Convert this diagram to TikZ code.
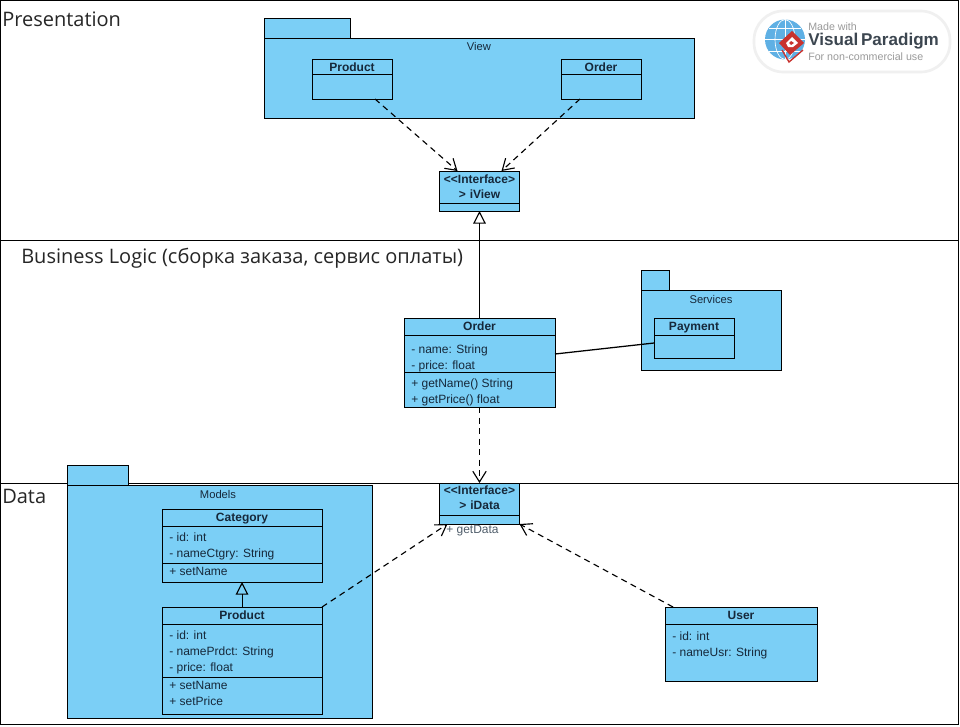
\documentclass[tikz,border=0pt]{standalone}
\usepackage{fontspec}
\setmainfont{Liberation Sans}
\newfontfamily\swimfont{Open Sans}
\usetikzlibrary{arrows.meta,calc}
\definecolor{umlfill}{HTML}{7BCFF6}
\definecolor{umltext}{HTML}{16283A}
\definecolor{vpblue}{HTML}{5FB0E4}
\definecolor{vpred}{HTML}{C8322E}
\definecolor{vpgray}{HTML}{9A9A9A}
\definecolor{vpdark}{HTML}{3C4650}
\tikzset{
  px/.style={x=0.75pt,y=-0.75pt},
  umlbox/.style={draw=black,fill=umlfill,line width=0.65pt,inner sep=0pt,outer sep=0pt,anchor=north west},
  seprule/.style={draw=black,line width=0.65pt},
  lane/.style={draw=black,line width=0.9pt},
  title/.style={font=\fontsize{9pt}{11pt}\selectfont\bfseries,text=umltext,align=center,inner sep=0pt,anchor=center},
  oneline/.style={text height=8.5pt,text depth=2pt},
  member/.style={font=\fontsize{9pt}{11pt}\selectfont,text=umltext,inner sep=0pt,anchor=west,oneline},
  pkgname/.style={font=\fontsize{8.4pt}{10pt}\selectfont,text=umltext,inner sep=0pt,anchor=center},
  lanename/.style={font=\swimfont\fontsize{15pt}{17pt}\selectfont,text=black!85,inner sep=0pt,anchor=west},
  depend/.style={draw=black,line width=0.85pt,dash pattern=on 4.5pt off 3.4pt,-{Straight Barb[length=8pt,width=10pt,line width=0.85pt]}},
  realize/.style={draw=black,line width=0.75pt,-{Triangle[open,length=9.5pt,width=9.5pt,line width=0.85pt]}},
  assoc/.style={draw=black,line width=0.95pt},
  logotext/.style={inner sep=0pt,anchor=west},
}
\newcommand{\umlbox}[5]{\node[umlbox,minimum width={(#4-#2)*0.75pt},minimum height={(#5-#3)*0.75pt}] (#1) at (#2,#3) {};}
\newcommand{\sepat}[2]{\path[seprule] ([yshift={-(#2)*0.75pt}]#1.north west) -- ([yshift={-(#2)*0.75pt}]#1.north east);}
\begin{document}
\begin{tikzpicture}[px]
\useasboundingbox (0,0) rectangle (960,726);
\fill[white] (0,0) rectangle (960,726);
% swimlanes
\node[lane,draw,minimum width={958*0.75pt},minimum height={724*0.75pt},inner sep=0pt,outer sep=0pt,anchor=north west] (frame) at (0.5,0.5) {};
\path[lane] ([yshift={-240*0.75pt}]frame.north west) -- ([yshift={-240*0.75pt}]frame.north east);
\path[lane] ([yshift={-483*0.75pt}]frame.north west) -- ([yshift={-483*0.75pt}]frame.north east);
\node[lanename] (lanePres) at (2,19) {Presentation};
\node[lanename] (laneBiz) at (21,258) {Business Logic (сборка заказа, сервис оплаты)};
\node[lanename] (laneData) at (2,496) {Data};
% logo
\path[draw=black!6,line width=2pt,fill=white,rounded corners=22pt] (754,11) rectangle (950,72);
\fill[vpblue] (785,39.5) circle[radius=20];
\begin{scope}[draw=white,line width=0.5pt]
 \draw (765,39.5) -- (805,39.5);
 \draw (785,19.5) -- (785,59.5);
 \draw (785,39.5) ellipse[x radius=10,y radius=20];
 \draw (769,28) -- (801,28);
 \draw (769,51) -- (801,51);
\end{scope}
\fill[vpred] (792,31) -- (804,43) -- (790,55) -- (779,43) -- cycle;
\fill[white] (792,37) -- (798,43) -- (793,47) -- (788,47) -- (786,43) -- cycle;
\fill[vpred] (791,41) -- (794,43) -- (791,45) -- (789,43) -- cycle;
\path[draw=vpred,line width=1pt] (782,50) -- (789,62) -- (803,50);
\node[logotext,text=vpgray,font=\fontsize{8pt}{9pt}\selectfont] (logoA) at (808,27) {Made with};
\node[logotext,text=vpdark,font=\fontsize{12.8pt}{15pt}\selectfont\bfseries] (logoB) at (808,41.5) {Visual\,Paradigm};
\node[logotext,text=vpgray,font=\fontsize{8pt}{9pt}\selectfont] (logoC) at (808,56.5) {For non-commercial use};
% View package
\umlbox{viewTab}{264}{18}{350}{39}
\umlbox{viewPkg}{264}{38}{694}{118}
\node[pkgname] (viewName) at (479,46.5) {View};
\umlbox{vProduct}{312}{59}{392}{99}
\sepat{vProduct}{15}
\node[title,oneline] (vProductT) at (352,67) {Product};
\umlbox{vOrder}{561}{59}{641}{99}
\sepat{vOrder}{15}
\node[title,oneline] (vOrderT) at (601,67) {Order};
% iView
\umlbox{iView}{439.5}{171}{519.5}{211}
\sepat{iView}{32}
\node[title,text width=78*0.75pt] (iViewT) at (479.5,186.5) {{<}{<}Interface{>}\\{>} iView};
% Order
\umlbox{order}{404}{318}{555}{407}
\sepat{order}{17}
\sepat{order}{54}
\node[title,oneline] (orderT) at (479.5,326) {Order};
\node[member] (o1) at (411,349) {- name: String};
\node[member] (o2) at (411,365) {- price: float};
\node[member] (o3) at (411,383) {+ getName() String};
\node[member] (o4) at (411,399) {+ getPrice() float};
% Services
\umlbox{svcTab}{641}{270}{669}{291}
\umlbox{svcPkg}{641}{290}{781}{370}
\node[pkgname] (svcName) at (711,299) {Services};
\umlbox{payment}{654}{318}{734}{358}
\sepat{payment}{17}
\node[title,oneline] (paymentT) at (694,326) {Payment};
% iData
\umlbox{iData}{439.5}{483}{519.5}{524}
\sepat{iData}{32}
\node[title,text width=78*0.75pt] (iDataT) at (479.5,498) {{<}{<}Interface{>}\\{>} iData};
\node[member,text=umltext!75,font=\fontsize{9pt}{10pt}\selectfont] (iDataM) at (446,529) {+ getData};
% Models
\umlbox{modTab}{67}{465}{128}{486}
\umlbox{modPkg}{67}{485}{372}{718}
\node[pkgname] (modName) at (218,494) {Models};
\umlbox{category}{162}{509}{322}{582}
\sepat{category}{17}
\sepat{category}{54}
\node[title,oneline] (categoryT) at (242,517) {Category};
\node[member] (c1) at (169,537) {- id: int};
\node[member] (c2) at (169,553.5) {- nameCtgry: String};
\node[member] (c3) at (169,571.5) {+ setName};
\umlbox{product}{162}{607}{322}{714}
\sepat{product}{17}
\sepat{product}{70}
\node[title,oneline] (productT) at (242,615) {Product};
\node[member] (p1) at (169,635) {- id: int};
\node[member] (p2) at (169,651.5) {- namePrdct: String};
\node[member] (p3) at (169,667.5) {- price: float};
\node[member] (p4) at (169,685.5) {+ setName};
\node[member] (p5) at (169,701.5) {+ setPrice};
% User
\umlbox{user}{665}{607}{817}{681}
\sepat{user}{17}
\node[title,oneline] (userT) at (741,615) {User};
\node[member] (u1) at (672,636) {- id: int};
\node[member] (u2) at (672,652) {- nameUsr: String};
% connectors
\path[depend] ([xshift={23*0.75pt}]vProduct.south) -- ([xshift={-22*0.75pt}]iView.north);
\path[depend] ([xshift={-21*0.75pt}]vOrder.south) -- ([xshift={22*0.75pt}]iView.north);
\path[realize] (order.north) -- (iView.south);
\path[assoc] ([yshift={-36*0.75pt}]order.north east) -- ([yshift={-25*0.75pt}]payment.north west);
\path[depend] (order.south) -- (iData.north);
\path[realize] (product.north) -- (category.south);
\path[depend] (product.north east) -- ([xshift={8*0.75pt}]iData.south west);
\path[depend] ([xshift={8*0.75pt}]user.north west) -- (iData.south east);
\end{tikzpicture}
\end{document}
